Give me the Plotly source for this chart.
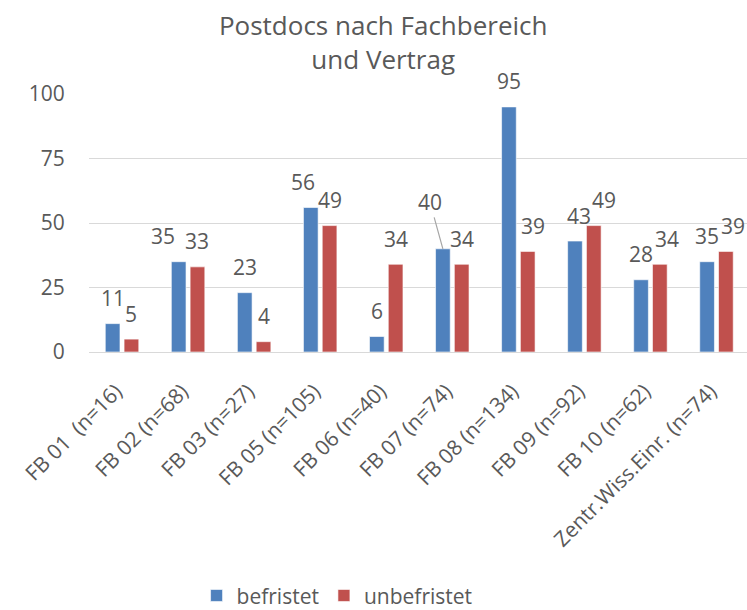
import plotly.graph_objects as go

categories = ["FB 01  (n=16)", "FB 02 (n=68)", "FB 03 (n=27)", "FB 05 (n=105)", "FB 06 (n=40)",
              "FB 07 (n=74)", "FB 08 (n=134)", "FB 09 (n=92)", "FB 10 (n=62)", "Zentr.Wiss.Einr. (n=74)"]
befristet = [11, 35, 23, 56, 6, 40, 95, 43, 28, 35]
unbefristet = [5, 33, 4, 49, 34, 34, 39, 49, 34, 39]
y_ticks = [0, 25, 50, 75, 100]

# label layout tweaks (pixels) relative to bar centre
blue_dx = [0, -16, 0, -8, 0, -13, 0, 4, 0, 0]
red_dx = [0, 0, 0, 0, 0, 0, 5, 10, 7, 7]
BAR_OFF = 9.4
TXT = "#595959"
FONT = "Open Sans"

fig = go.Figure()
fig.add_trace(go.Bar(name="befristet", x=categories, y=befristet,
                     marker=dict(color="#4F81BD", line=dict(color="rgba(255,255,255,0.6)", width=1))))
fig.add_trace(go.Bar(name="unbefristet", x=categories, y=unbefristet,
                     marker=dict(color="#C0504D", line=dict(color="rgba(255,255,255,0.6)", width=1))))

annotations = []
for i, c in enumerate(categories):
    if i == 5:
        annotations.append(dict(x=c, y=befristet[i], xref="x", yref="y", text=str(befristet[i]),
                                showarrow=True, arrowhead=0, arrowwidth=1.2, arrowcolor="#A6A6A6",
                                ax=blue_dx[i], ay=-47, xshift=-BAR_OFF, standoff=0,
                                font=dict(family=FONT, size=21, color=TXT)))
    else:
        annotations.append(dict(x=c, y=befristet[i], xref="x", yref="y", text=str(befristet[i]),
                                showarrow=False, yanchor="middle", yshift=25.5,
                                xshift=-BAR_OFF + blue_dx[i],
                                font=dict(family=FONT, size=21, color=TXT)))
    annotations.append(dict(x=c, y=unbefristet[i], xref="x", yref="y", text=str(unbefristet[i]),
                            showarrow=False, yanchor="middle", yshift=25.5,
                            xshift=BAR_OFF + red_dx[i],
                            font=dict(family=FONT, size=21, color=TXT)))

fig.update_layout(
    width=747, height=610,
    margin=dict(l=88.5, r=0, t=94, b=257.7, autoexpand=False),
    paper_bgcolor="white", plot_bgcolor="white",
    barmode="group", bargap=0.431, bargroupgap=0.218,
    font=dict(family=FONT, size=21, color=TXT),
    title=dict(text="Postdocs nach Fachbereich<br>und Vertrag", x=0.513, xanchor="center",
               y=0.942, yanchor="top", yref="container",
               font=dict(family=FONT, size=26, color=TXT)),
    xaxis=dict(range=[-0.5, 9.462], tickangle=-45, showgrid=False, showline=False, automargin=False,
               tickfont=dict(family=FONT, size=21, color=TXT), ticks="",
               ticklabelstandoff=22, ticklabelshift=-6),
    yaxis=dict(range=[0, 100], tickvals=y_ticks, showgrid=True, gridcolor="#D9D9D9", gridwidth=1.3,
               zeroline=True, zerolinecolor="#D9D9D9", zerolinewidth=1.3, showline=False, automargin=False,
               ticks="outside", ticklen=19, tickcolor="rgba(0,0,0,0)",
               tickfont=dict(family=FONT, size=21, color=TXT)),
    legend=dict(orientation="h", x=0.377, xanchor="center", y=-0.945, yanchor="middle",
                font=dict(family=FONT, size=21, color=TXT), itemwidth=30),
    annotations=annotations,
    showlegend=True,
)

fig.write_html("out.html", config={"displayModeBar": False},
               post_script="document.body.style.margin='0';document.body.style.overflow='hidden';")
